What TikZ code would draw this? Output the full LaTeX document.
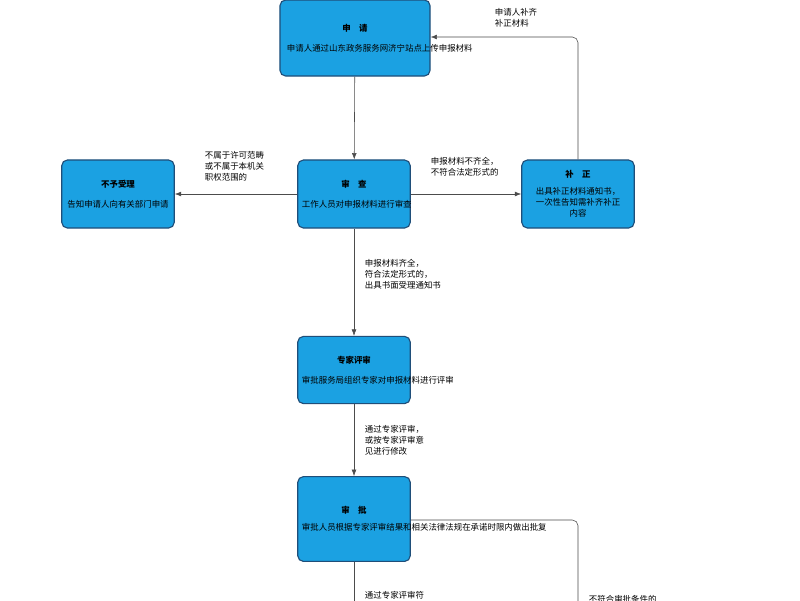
\documentclass[tikz,border=0pt]{standalone}
\usepackage{fontspec}
\setmainfont{Noto Sans CJK SC}
\usetikzlibrary{arrows.meta, positioning}
\definecolor{boxblue}{HTML}{1BA1E2}
\definecolor{boxline}{HTML}{1F4E79}
\tikzset{
    stage/.style={draw=boxline, thick, fill=boxblue, rounded corners=4pt, align=center,
        font=\fontsize{6pt}{8pt}\selectfont, inner sep=3pt},
    note/.style={align=left, font=\fontsize{6pt}{8pt}\selectfont},
    flow/.style={draw=black!70, -{Latex[length=1.6mm]}}
}
\begin{document}
\begin{tikzpicture}[x=0.025cm, y=-0.025cm]
    \clip (0,0) rectangle (800,600);
    \fill[white] (0,0) rectangle (800,600);

    % boxes
    \node[stage, minimum width=3.75cm, minimum height=1.9cm, text width=3.4cm] (apply) at (355,38)
        {\textbf{申\quad 请}\\[6pt]申请人通过山东政务服务网济宁站点上传申报材料};
    \node[stage, minimum width=2.8cm, minimum height=1.7cm, text width=2.6cm] (check) at (354,194)
        {\textbf{审\quad 查}\\[6pt]工作人员对申报材料进行审查};
    \node[stage, minimum width=2.8cm, minimum height=1.7cm, text width=2.6cm] (reject) at (118,194)
        {\textbf{不予受理}\\[6pt]告知申请人向有关部门申请};
    \node[stage, minimum width=2.8cm, minimum height=1.7cm, text width=2.6cm] (amend) at (578,194)
        {\textbf{补\quad 正}\\[4pt]出具补正材料通知书，\\一次性告知需补齐补正\\内容};
    \node[stage, minimum width=2.8cm, minimum height=1.68cm, text width=2.6cm] (expert) at (354,370)
        {\textbf{专家评审}\\[6pt]审批服务局组织专家对申报材料进行评审};
    \node[stage, minimum width=2.8cm, minimum height=2.12cm, text width=2.6cm] (approve) at (354,519)
        {\textbf{审\quad 批}\\[4pt]审批人员根据专家评审结果和相关法律法规在承诺时限内做出批复};

    \coordinate (turn) at (578,37);
    \coordinate (downA) at (354,620);
    \coordinate (corner) at (578,520);
    \coordinate (downB) at (578,620);

    % connectors
    \draw[flow] (apply) -- (check);
    \draw[flow] (check) -- (reject);
    \draw[flow] (check) -- (amend);
    \draw[flow, rounded corners=4pt] (amend) -- (turn) -- (apply.east |- turn);
    \draw[flow] (check) -- (expert);
    \draw[flow] (expert) -- (approve);
    \draw[draw=black!70] (approve) -- (downA);
    \draw[draw=black!70, rounded corners=4pt] (approve.east |- corner) -- (corner) -- (downB);

    % labels
    \node[note, anchor=south west] (l1) at (490,32) {申请人补齐\\补正材料};
    \node[note, anchor=north west] (l2) at (200,146) {不属于许可范畴\\或不属于本机关\\职权范围的};
    \node[note, anchor=north west] (l3) at (426,152) {申报材料不齐全，\\不符合法定形式的};
    \node[note, anchor=north west] (l4) at (360,254) {申报材料齐全，\\符合法定形式的，\\出具书面受理通知书};
    \node[note, anchor=north west] (l5) at (360,420) {通过专家评审，\\或按专家评审意\\见进行修改};
    \node[note, anchor=north west] (l6) at (360,586) {通过专家评审符\\合条件的};
    \node[note, anchor=north west] (l7) at (584,590) {不符合审批条件的};
\end{tikzpicture}
\end{document}
